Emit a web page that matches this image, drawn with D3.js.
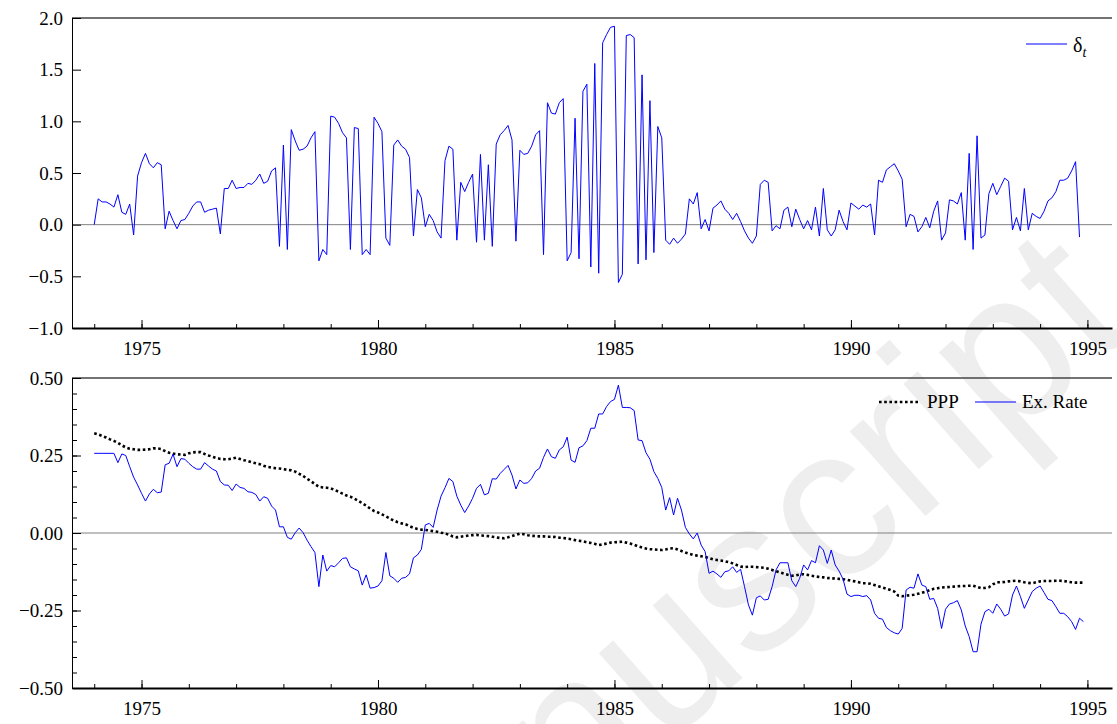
<!DOCTYPE html>
<html lang="en">
<head>
<meta charset="utf-8">
<title>delta and exchange rate</title>
<script src="https://d3js.org/d3.v7.min.js"></script>
<style>
    body { margin: 0; background: #fff; }
    svg text { font-family: "Liberation Serif", "Times New Roman", serif; fill: #000; }
    .watermark { font-family: "Liberation Sans", Arial, sans-serif !important; fill: #eeeeee !important; }
</style>
</head>
<body>
<div id="container"></div>
<script>
    // monthly series, first value is Jan 1974
    const startYear = 1974;

    const delta = [
        0.00, 0.25, 0.22, 0.22, 0.20, 0.17, 0.29, 0.12, 0.10, 0.20, -0.10, 0.47,
        0.60, 0.69, 0.59, 0.55, 0.60, 0.58, -0.04, 0.13, 0.04, -0.04, 0.04, 0.05,
        0.11, 0.18, 0.22, 0.22, 0.12, 0.14, 0.15, 0.16, -0.09, 0.35, 0.35, 0.43,
        0.35, 0.36, 0.36, 0.40, 0.39, 0.43, 0.49, 0.40, 0.42, 0.52, 0.55, -0.21,
        0.77, -0.24, 0.92, 0.81, 0.72, 0.73, 0.76, 0.84, 0.90, -0.35, -0.24, -0.29,
        1.05, 1.04, 0.98, 0.89, 0.84, -0.24, 0.94, 0.93, -0.29, -0.24, -0.29, 1.04,
        0.98, 0.90, -0.13, -0.20, 0.77, 0.82, 0.76, 0.73, 0.65, -0.11, 0.34, 0.26,
        -0.02, 0.10, 0.04, -0.07, -0.13, 0.62, 0.76, 0.73, -0.15, 0.41, 0.32, 0.41,
        0.49, -0.17, 0.68, -0.15, 0.58, -0.21, 0.78, 0.87, 0.91, 0.96, 0.82, -0.16,
        0.72, 0.68, 0.69, 0.76, 0.87, 0.91, -0.29, 1.18, 1.08, 1.07, 1.18, 1.22,
        -0.35, -0.27, 1.03, -0.33, 1.29, 1.36, -0.41, 1.56, -0.47, 1.76, 1.84, 1.91,
        1.92, -0.56, -0.48, 1.83, 1.84, 1.81, -0.38, 1.45, -0.34, 1.20, -0.27, 0.95,
        0.84, -0.15, -0.19, -0.13, -0.18, -0.14, -0.09, 0.25, 0.20, 0.31, -0.04, 0.05,
        -0.06, 0.16, 0.19, 0.23, 0.15, 0.11, 0.05, 0.11, 0.03, -0.06, -0.13, -0.18,
        -0.11, 0.39, 0.43, 0.41, -0.06, -0.01, -0.04, 0.14, 0.17, -0.02, 0.15, 0.05,
        -0.04, 0.04, -0.05, 0.17, -0.11, 0.35, -0.05, -0.11, -0.05, 0.14, 0.03, -0.05,
        0.21, 0.18, 0.15, 0.19, 0.17, 0.20, -0.10, 0.43, 0.41, 0.53, 0.56, 0.59,
        0.52, 0.44, -0.02, 0.10, 0.08, -0.07, -0.02, 0.07, -0.03, 0.13, 0.23, -0.15,
        -0.08, 0.24, 0.23, 0.20, 0.31, -0.15, 0.69, -0.24, 0.86, -0.13, -0.10, 0.30,
        0.40, 0.29, 0.37, 0.45, 0.42, -0.05, 0.07, -0.06, 0.35, -0.05, 0.11, 0.08,
        0.06, 0.13, 0.23, 0.26, 0.32, 0.43, 0.43, 0.45, 0.52, 0.61, -0.12
    ];

    const exRate = [
        0.257, 0.257, 0.257, 0.257, 0.257, 0.257, 0.227, 0.255, 0.250, 0.214, 0.180, 0.155,
        0.128, 0.103, 0.126, 0.141, 0.130, 0.132, 0.220, 0.225, 0.254, 0.214, 0.240, 0.238,
        0.225, 0.214, 0.206, 0.206, 0.227, 0.216, 0.206, 0.200, 0.166, 0.155, 0.154, 0.137,
        0.158, 0.147, 0.144, 0.133, 0.131, 0.124, 0.103, 0.117, 0.112, 0.087, 0.074, 0.020,
        0.020, -0.014, -0.020, 0.001, 0.016, 0.001, -0.023, -0.044, -0.063, -0.173, -0.071, -0.123,
        -0.105, -0.109, -0.096, -0.082, -0.080, -0.109, -0.116, -0.122, -0.168, -0.135, -0.178, -0.176,
        -0.171, -0.154, -0.063, -0.138, -0.146, -0.159, -0.146, -0.143, -0.132, -0.080, -0.071, -0.053,
        0.026, 0.031, 0.018, 0.074, 0.119, 0.146, 0.176, 0.166, 0.119, 0.090, 0.066, 0.087,
        0.112, 0.144, 0.157, 0.123, 0.128, 0.175, 0.174, 0.192, 0.205, 0.218, 0.187, 0.142,
        0.171, 0.160, 0.162, 0.176, 0.200, 0.209, 0.244, 0.271, 0.246, 0.241, 0.268, 0.278,
        0.309, 0.235, 0.228, 0.275, 0.281, 0.298, 0.338, 0.338, 0.384, 0.384, 0.408, 0.424,
        0.431, 0.477, 0.405, 0.405, 0.404, 0.395, 0.300, 0.298, 0.259, 0.238, 0.198, 0.176,
        0.147, 0.074, 0.114, 0.058, 0.112, 0.074, 0.018, -0.003, -0.019, 0.000, -0.039, -0.060,
        -0.130, -0.123, -0.132, -0.143, -0.125, -0.122, -0.109, -0.127, -0.117, -0.173, -0.232, -0.265,
        -0.209, -0.203, -0.216, -0.214, -0.173, -0.119, -0.096, -0.096, -0.096, -0.154, -0.173, -0.146,
        -0.103, -0.119, -0.089, -0.096, -0.041, -0.055, -0.098, -0.055, -0.103, -0.123, -0.149, -0.197,
        -0.205, -0.201, -0.201, -0.205, -0.202, -0.216, -0.259, -0.275, -0.278, -0.305, -0.315, -0.322,
        -0.326, -0.308, -0.184, -0.175, -0.178, -0.132, -0.168, -0.173, -0.214, -0.211, -0.243, -0.308,
        -0.246, -0.229, -0.225, -0.218, -0.248, -0.300, -0.334, -0.383, -0.383, -0.294, -0.254, -0.246,
        -0.259, -0.229, -0.246, -0.268, -0.261, -0.200, -0.171, -0.205, -0.243, -0.216, -0.189, -0.178,
        -0.171, -0.192, -0.214, -0.218, -0.238, -0.259, -0.259, -0.270, -0.286, -0.311, -0.275, -0.286
    ];

    const ppp = [
        0.322, 0.318, 0.313, 0.308, 0.302, 0.297, 0.291, 0.283, 0.276, 0.272, 0.270, 0.268,
        0.268, 0.269, 0.270, 0.273, 0.273, 0.271, 0.264, 0.259, 0.256, 0.254, 0.253, 0.252,
        0.257, 0.260, 0.261, 0.261, 0.255, 0.250, 0.246, 0.242, 0.239, 0.238, 0.238, 0.240,
        0.243, 0.239, 0.235, 0.232, 0.228, 0.225, 0.222, 0.217, 0.213, 0.211, 0.209, 0.208,
        0.206, 0.204, 0.202, 0.198, 0.191, 0.184, 0.175, 0.167, 0.158, 0.149, 0.147, 0.146,
        0.144, 0.139, 0.133, 0.127, 0.121, 0.117, 0.111, 0.104, 0.096, 0.088, 0.079, 0.071,
        0.066, 0.060, 0.054, 0.047, 0.040, 0.035, 0.031, 0.028, 0.022, 0.017, 0.013, 0.011,
        0.010, 0.008, 0.006, 0.004, 0.001, -0.001, -0.006, -0.011, -0.014, -0.012, -0.010, -0.008,
        -0.007, -0.006, -0.008, -0.009, -0.010, -0.012, -0.014, -0.016, -0.017, -0.014, -0.010, -0.006,
        -0.002, -0.004, -0.007, -0.009, -0.010, -0.011, -0.011, -0.012, -0.012, -0.013, -0.015, -0.016,
        -0.018, -0.020, -0.023, -0.025, -0.027, -0.030, -0.032, -0.035, -0.039, -0.037, -0.034, -0.031,
        -0.030, -0.029, -0.028, -0.031, -0.034, -0.038, -0.043, -0.047, -0.050, -0.052, -0.053, -0.054,
        -0.055, -0.053, -0.050, -0.049, -0.053, -0.058, -0.063, -0.067, -0.071, -0.073, -0.075, -0.077,
        -0.081, -0.085, -0.087, -0.089, -0.091, -0.094, -0.098, -0.103, -0.108, -0.110, -0.109, -0.109,
        -0.110, -0.111, -0.112, -0.115, -0.119, -0.123, -0.127, -0.131, -0.135, -0.138, -0.137, -0.134,
        -0.133, -0.135, -0.138, -0.140, -0.142, -0.143, -0.145, -0.146, -0.147, -0.148, -0.149, -0.151,
        -0.154, -0.156, -0.159, -0.162, -0.162, -0.164, -0.168, -0.172, -0.176, -0.180, -0.184, -0.189,
        -0.202, -0.204, -0.202, -0.201, -0.199, -0.196, -0.193, -0.189, -0.184, -0.180, -0.178, -0.176,
        -0.175, -0.174, -0.173, -0.172, -0.171, -0.171, -0.170, -0.170, -0.174, -0.178, -0.177, -0.175,
        -0.166, -0.159, -0.159, -0.158, -0.156, -0.155, -0.154, -0.156, -0.159, -0.161, -0.162, -0.159,
        -0.156, -0.155, -0.155, -0.155, -0.154, -0.154, -0.155, -0.157, -0.159, -0.160, -0.160, -0.160
    ];

    const yearTicks = [1975, 1980, 1985, 1990, 1995];
    const minorYears = d3.range(1974, 1996);
    const deltaTicks = [-1.0, -0.5, 0.0, 0.5, 1.0, 1.5, 2.0];
    const rateTicks = [-0.50, -0.25, 0.00, 0.25, 0.50];
    const rateMinor = d3.range(-0.5, 0.5001, 0.05);

    const w = 1117;
    const h = 724;
    const left = 72, right = 1112;
    const serif = '"Liberation Serif", "Times New Roman", serif';

    const svg = d3.select("div#container").append("svg")
        .attr("width", w)
        .attr("height", h)
        .style("background-color", "#fff");

    // faint diagonal watermark behind the plots
    svg.append("text")
        .attr("class", "watermark")
        .attr("text-anchor", "end")
        .attr("transform", "translate(1138,328) rotate(-41.5)")
        .style("font-size", "215px")
        .text("Accepted Manuscript");

    const x = d3.scaleLinear().domain([1973.53, 1995.52]).range([left, right]);
    const tx = (d, i) => x(startYear + i / 12);

    function styleText(a) {
        a.selectAll("text")
            .attr("font-family", serif)
            .style("font-family", serif)
            .style("font-size", "19px")
            .attr("fill", "#000");
    }

    function panel(top, bottom, domain, ticks, minor, fmt) {
        const y = d3.scaleLinear().domain(domain).range([bottom, top]);
        const g = svg.append("g");

        // zero line
        g.append("line")
            .attr("x1", left).attr("x2", right)
            .attr("y1", y(0)).attr("y2", y(0))
            .attr("stroke", "#808080").attr("stroke-width", 1);

        // top frame
        g.append("line")
            .attr("x1", left).attr("x2", right)
            .attr("y1", top).attr("y2", top)
            .attr("stroke", "#444").attr("stroke-width", 1.5);

        if (minor) {
            g.append("g")
                .attr("transform", "translate(" + left + ",0)")
                .call(d3.axisLeft(y).tickValues(minor).tickSizeInner(-5).tickSizeOuter(0).tickFormat(""))
                .call(a => a.select(".domain").remove());
        }
        g.append("g")
            .attr("transform", "translate(" + left + ",0)")
            .call(d3.axisLeft(y).tickValues(ticks).tickSizeInner(-9).tickSizeOuter(0).tickPadding(9).tickFormat(d3.format(fmt)))
            .call(styleText);

        g.append("g")
            .attr("transform", "translate(0," + bottom + ")")
            .call(d3.axisBottom(x).tickValues(minorYears).tickSizeInner(-4).tickSizeOuter(0).tickFormat(""))
            .call(a => a.select(".domain").remove());
        const xa = g.append("g")
            .attr("transform", "translate(0," + bottom + ")")
            .call(d3.axisBottom(x).tickValues(yearTicks).tickSizeInner(-8).tickSizeOuter(0).tickPadding(14).tickFormat(d3.format("d")))
            .call(styleText);
        xa.select(".domain").attr("stroke-width", 2);

        return {g: g, y: y};
    }

    // upper panel: delta_t
    const p1 = panel(18, 328, [-1, 2], deltaTicks, null, ".1f");
    p1.g.append("path")
        .datum(delta)
        .attr("fill", "none")
        .attr("stroke", "#0000ff")
        .attr("stroke-width", 1)
        .attr("d", d3.line().x(tx).y(d => p1.y(d)));

    p1.g.append("line")
        .attr("x1", 1026).attr("x2", 1067).attr("y1", 44).attr("y2", 44)
        .attr("stroke", "#0000ff").attr("stroke-width", 1);
    const lt = p1.g.append("text").attr("x", 1073).attr("y", 52).style("font-size", "20px");
    lt.append("tspan").text("δ");
    lt.append("tspan").attr("dy", 5).style("font-size", "14px").style("font-style", "italic").text("t");

    // lower panel: PPP and exchange rate
    const p2 = panel(378, 688, [-0.5, 0.5], rateTicks, rateMinor, ".2f");
    p2.g.append("path")
        .datum(ppp)
        .attr("fill", "none")
        .attr("stroke", "#000")
        .attr("stroke-width", 2.6)
        .attr("stroke-dasharray", "2.6,2.6")
        .attr("d", d3.line().x(tx).y(d => p2.y(d)));
    p2.g.append("path")
        .datum(exRate)
        .attr("fill", "none")
        .attr("stroke", "#0000ff")
        .attr("stroke-width", 1)
        .attr("d", d3.line().x(tx).y(d => p2.y(d)));

    p2.g.append("line")
        .attr("x1", 879).attr("x2", 920).attr("y1", 402).attr("y2", 402)
        .attr("stroke", "#000").attr("stroke-width", 2.6).attr("stroke-dasharray", "2.6,2.6");
    p2.g.append("text").attr("x", 927).attr("y", 408).style("font-size", "19px").text("PPP");
    p2.g.append("line")
        .attr("x1", 975).attr("x2", 1016).attr("y1", 402).attr("y2", 402)
        .attr("stroke", "#0000ff").attr("stroke-width", 1);
    p2.g.append("text").attr("x", 1022).attr("y", 408).style("font-size", "19px").text("Ex. Rate");
</script>
</body>
</html>
